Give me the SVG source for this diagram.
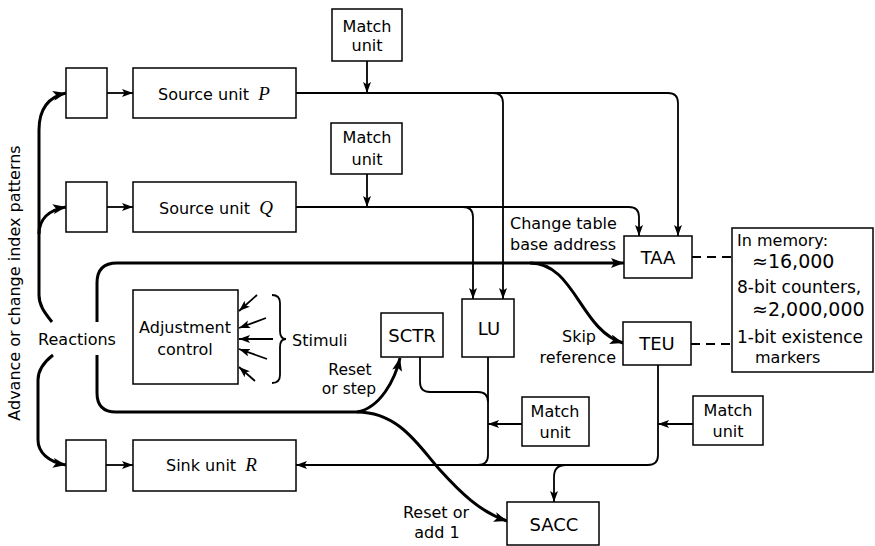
<svg xmlns="http://www.w3.org/2000/svg" width="875" height="546" viewBox="0 0 875 546">
<style>
.box{fill:#fff;stroke:#000;stroke-width:1.5}
.t{font-family:"DejaVu Sans",sans-serif;font-size:16px;fill:#000}
.c{text-anchor:middle}
.e{text-anchor:end}
.lbl{font-size:18px}
.num{font-size:19px}
.it{font-family:"Liberation Serif",serif;font-style:italic;font-size:19px}
.ln{fill:none;stroke:#000;stroke-width:1.8}
.thk{fill:none;stroke:#000;stroke-width:3}
.dash{fill:none;stroke:#000;stroke-width:2;stroke-dasharray:9 6}
</style>
<defs>
<marker id="ah" markerUnits="userSpaceOnUse" markerWidth="12" markerHeight="9" refX="11" refY="4" orient="auto"><path d="M0,0 L11,4 L0,8 L2.5,4 z" fill="#000"/></marker>
<marker id="ahk" markerUnits="userSpaceOnUse" markerWidth="14" markerHeight="10" refX="13" refY="5" orient="auto"><path d="M0,0 L13,5 L0,10 L3,5 z" fill="#000"/></marker>
</defs>
<rect width="875" height="546" fill="#fff"/>

<g id="connectors">
<path class="ln" d="M367,61 V93" marker-end="url(#ah)"/>
<path class="ln" d="M367,174 V207" marker-end="url(#ah)"/>
<path class="ln" d="M107,93 H133" marker-end="url(#ah)"/>
<path class="ln" d="M107,207 H133" marker-end="url(#ah)"/>
<path class="ln" d="M106,465 H133" marker-end="url(#ah)"/>
<path class="ln" d="M296,93 H668 Q678,93 678,103 V236" marker-end="url(#ah)"/>
<path class="ln" d="M493,93 Q503,93 503,103 V299" marker-end="url(#ah)"/>
<path class="ln" d="M296,207 H629 Q639,207 639,217 V236" marker-end="url(#ah)"/>
<path class="ln" d="M463,207 Q473,207 473,217 V299" marker-end="url(#ah)"/>
<path class="thk" d="M97,322 V283 Q97,263 117,263 H624" marker-end="url(#ahk)"/>
<path class="thk" d="M97,355 V393 Q97,412 116,412 H357"/>
<path class="thk" d="M357,412 C380,408 395,380 400,358" marker-end="url(#ahk)"/>
<path class="thk" d="M357,412 C400,412 420,448 440,470 C460,492 480,512 507,521" marker-end="url(#ahk)"/>
<path class="thk" d="M530,263 C575,263 580,330 623,343" marker-end="url(#ahk)"/>
<path class="thk" d="M52,322 C44,312 39,305 39,295 V130 C39,110 48,97 66,93" marker-end="url(#ahk)"/>
<path class="thk" d="M39,234 C39,220 48,210 66,207" marker-end="url(#ahk)"/>
<path class="thk" d="M53,355 C44,362 38,370 38,380 V440 C38,452 48,462 66,465" marker-end="url(#ahk)"/>
<path class="ln" d="M658,365 V455 Q658,465 648,465 H296" marker-end="url(#ah)"/>
<path class="ln" d="M488,357 V455 Q488,465 478,465"/>
<path class="ln" d="M420,357 V382 Q420,392 430,392 H478 Q488,392 488,402"/>
<path class="ln" d="M566,465 Q554,465 554,477 V502" marker-end="url(#ah)"/>
<path class="ln" d="M522,424 H488" marker-end="url(#ah)"/>
<path class="ln" d="M693,424 H658" marker-end="url(#ah)"/>
<path class="dash" d="M692,257 H732"/>
<path class="dash" d="M691,344 H732"/>
<path class="ln" d="M257,295 L239,311" marker-end="url(#ah)"/>
<path class="ln" d="M266,318 L239,328" marker-end="url(#ah)"/>
<path class="ln" d="M273,339 L239,339" marker-end="url(#ah)"/>
<path class="ln" d="M267,359 L239,349" marker-end="url(#ah)"/>
<path class="ln" d="M255,381 L239,367" marker-end="url(#ah)"/>
<path class="ln" d="M272,295 Q280,295 280,303 V331 Q280,339 286,339 Q280,339 280,347 V375 Q280,383 272,383"/>
</g>

<g id="match1"><rect class="box" x="332" y="9" width="70" height="52"/><text class="t c" x="367" y="32">Match</text><text class="t c" x="367" y="51">unit</text></g>
<g id="match2"><rect class="box" x="331" y="123" width="71" height="51"/><text class="t c" x="367" y="143">Match</text><text class="t c" x="367" y="165">unit</text></g>
<g id="match3"><rect class="box" x="522" y="397" width="67" height="49"/><text class="t c" x="555" y="417">Match</text><text class="t c" x="555" y="438">unit</text></g>
<g id="match4"><rect class="box" x="693" y="396" width="70" height="49"/><text class="t c" x="728" y="416">Match</text><text class="t c" x="728" y="437">unit</text></g>

<g id="smallP"><rect class="box" x="66" y="68" width="41" height="50"/></g>
<g id="smallQ"><rect class="box" x="66" y="182" width="41" height="50"/></g>
<g id="smallR"><rect class="box" x="66" y="440" width="40" height="51"/></g>

<g id="sourceP"><rect class="box" x="133" y="68" width="163" height="50"/><text class="t" x="158" y="100">Source unit <tspan class="it" dx="4">P</tspan></text></g>
<g id="sourceQ"><rect class="box" x="133" y="182" width="163" height="50"/><text class="t" x="159" y="214">Source unit <tspan class="it" dx="4">Q</tspan></text></g>
<g id="sinkR"><rect class="box" x="133" y="440" width="163" height="51"/><text class="t" x="166" y="471">Sink unit <tspan class="it" dx="4">R</tspan></text></g>

<g id="adjust"><rect class="box" x="133" y="290" width="105" height="94"/><text class="t c" x="185" y="333">Adjustment</text><text class="t c" x="185" y="355">control</text></g>

<g id="TAA"><rect class="box" x="624" y="236" width="68" height="42"/><text class="t c lbl" x="658" y="264">TAA</text></g>
<g id="TEU"><rect class="box" x="623" y="322" width="68" height="43"/><text class="t c lbl" x="657" y="350">TEU</text></g>
<g id="LU"><rect class="box" x="462" y="299" width="52" height="58"/><text class="t c lbl" x="489" y="335">LU</text></g>
<g id="SCTR"><rect class="box" x="381" y="313" width="62" height="44"/><text class="t c lbl" x="412" y="342">SCTR</text></g>
<g id="SACC"><rect class="box" x="507" y="502" width="92" height="43"/><text class="t c lbl" x="554" y="531">SACC</text></g>

<g id="memory"><rect class="box" x="732" y="228" width="141" height="144"/>
<text class="t" x="737" y="246">In memory:</text>
<text class="t num" x="752" y="268">≈16,000</text>
<text class="t" x="737" y="293" style="font-size:17px">8-bit counters,</text>
<text class="t num" x="752" y="316">≈2,000,000</text>
<text class="t" x="737" y="343" style="font-size:17px">1-bit existence</text>
<text class="t" x="755" y="363">markers</text>
</g>

<g id="labels">
<text class="t" x="20" y="283" transform="rotate(-90 20 283)" text-anchor="middle">Advance or change index patterns</text>
<text class="t c" x="77" y="345">Reactions</text>
<text class="t" x="292" y="346">Stimuli</text>
<text class="t" x="510" y="229">Change table</text>
<text class="t" x="510" y="250">base address</text>
<text class="t c" x="579" y="342">Skip</text>
<text class="t e" x="616" y="363">reference</text>
<text class="t c" x="350" y="375" style="font-size:15.5px">Reset</text>
<text class="t c" x="349" y="394" style="font-size:15.5px">or step</text>
<text class="t c" x="436" y="518">Reset or</text>
<text class="t c" x="437" y="538">add 1</text>
</g>
</svg>
